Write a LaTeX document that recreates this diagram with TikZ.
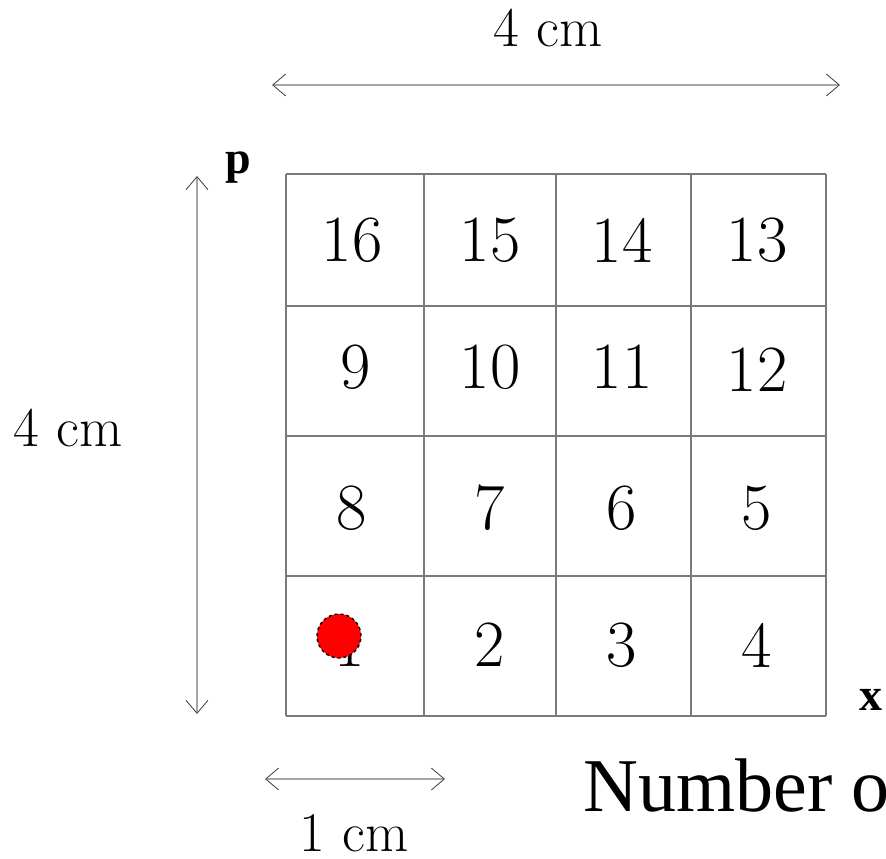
\documentclass[tikz,border=0pt]{standalone}
\usepackage{fontspec}
\usetikzlibrary{arrows.meta}
\newfontfamily\timesfont{Liberation Serif}
\definecolor{gridline}{HTML}{7A7A7A}
\definecolor{dimline}{HTML}{A6A6A6}
\definecolor{dot}{HTML}{FF0000}

\begin{document}
\begin{tikzpicture}[x=1pt,y=-1pt,
  dim/.style={draw=dimline,line width=2.6pt,
    {Straight Barb[length=13pt,width=22pt,line width=0.9pt,color=black!70]}-{Straight Barb[length=13pt,width=22pt,line width=0.9pt,color=black!70]}},
  cellnum/.style={font=\fontsize{66}{66}\selectfont},
  dimlabel/.style={inner sep=0pt,font=\fontsize{56}{56}\selectfont},
  axislabel/.style={font=\timesfont\bfseries\fontsize{46}{46}\selectfont}]
 \clip (0,0) rectangle (886,859);
 \foreach \x in {286,424,556,691,826}
   \draw[gridline,line width=1.4pt] (\x,174)--(\x,716);
 \foreach \y in {174,306,436,576,716}
   \draw[gridline,line width=1.4pt] (286,\y)--(826,\y);
 \foreach \n/\x/\y in {16/352/240,15/490/240,14/622/240,13/757/240,
                       9/356/367,10/490/367,11/622/367,12/757/370,
                       8/352/508,7/490/508,6/622/508,5/757/508,
                       1/350/645,2/490/645,3/622/645,4/757/645}
   \node[cellnum] (n\n) at (\x,\y) {\n};
 \node[circle,fill=dot,draw=black,dashed,line width=1.4pt,minimum size=44pt,inner sep=0pt] (ball) at (339,636) {};
 \coordinate (topl) at (272,85);
 \coordinate (topr) at (840,85);
 \coordinate (sidet) at (197,176);
 \coordinate (sideb) at (197,714);
 \coordinate (unitl) at (265,779);
 \coordinate (unitr) at (445,779);
 \draw[dim] (topl)--(topr);
 \draw[dim] (sidet)--(sideb);
 \draw[dim] (unitl)--(unitr);
 \node[dimlabel] (toplab) at (548,28) {4 cm};
 \node[dimlabel] (sidelab) at (68,428) {4 cm};
 \node[dimlabel] (unitlab) at (354,833) {1 cm};
 \node[axislabel] (plab) at (238,168) {p};
 \node[axislabel] (xlab) at (871,700) {x};
 \node[anchor=west,font=\timesfont\fontsize{76}{76}\selectfont] (count) at (580,785) {Number of};
\end{tikzpicture}
\end{document}
